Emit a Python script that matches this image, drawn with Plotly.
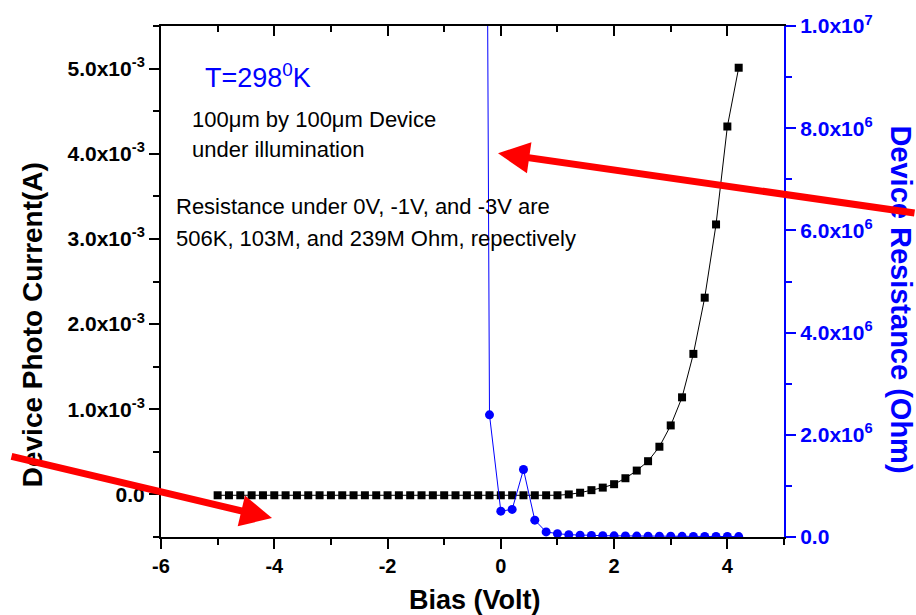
import plotly.graph_objects as go

# ---------------- data ----------------
bias_I = [-5.0, -4.8, -4.6, -4.4, -4.2, -4.0, -3.8, -3.6, -3.4, -3.2,
          -3.0, -2.8, -2.6, -2.4, -2.2, -2.0, -1.8, -1.6, -1.4, -1.2,
          -1.0, -0.8, -0.6, -0.4, -0.2, 0.0, 0.2, 0.4, 0.6, 0.8,
          1.0, 1.2, 1.4, 1.6, 1.8, 2.0, 2.2, 2.4, 2.6, 2.8,
          3.0, 3.2, 3.4, 3.6, 3.8, 4.0, 4.2]
current_A = [-1e-5] * 31 + [0.0, 2e-5, 5e-5, 8e-5, 1.2e-4, 1.9e-4, 2.8e-4, 3.9e-4, 5.6e-4,
                            8.1e-4, 1.14e-3, 1.65e-3, 2.31e-3, 3.17e-3, 4.32e-3, 5.01e-3]

bias_R = [-0.4, -0.2, 0.0, 0.2, 0.4, 0.6, 0.8, 1.0, 1.2, 1.4,
          1.6, 1.8, 2.0, 2.2, 2.4, 2.6, 2.8, 3.0, 3.2, 3.4,
          3.6, 3.8, 4.0, 4.2]
resistance_ohm = [5.0e7, 2.39e6, 5.06e5, 5.4e5, 1.32e6, 3.3e5, 1.0e5, 6.5e4, 4.5e4, 3.5e4,
                  3.0e4, 2.6e4, 2.3e4, 2.0e4, 1.8e4, 1.6e4, 1.5e4, 1.4e4, 1.3e4, 1.2e4,
                  1.1e4, 1.0e4, 9.0e3, 8.0e3]

x_tickvals = [-6, -4, -2, 0, 2, 4]
x_ticktext = ["-6", "-4", "-2", "0", "2", "4"]
yl_tickvals = [0, 1e-3, 2e-3, 3e-3, 4e-3, 5e-3]
yl_ticktext = ["0.0", "1.0x10<sup>-3</sup>", "2.0x10<sup>-3</sup>", "3.0x10<sup>-3</sup>",
               "4.0x10<sup>-3</sup>", "5.0x10<sup>-3</sup>"]
yr_tickvals = [0, 2e6, 4e6, 6e6, 8e6, 1e7]
yr_ticktext = ["0.0", "2.0x10<sup>6</sup>", "4.0x10<sup>6</sup>", "6.0x10<sup>6</sup>",
               "8.0x10<sup>6</sup>", "1.0x10<sup>7</sup>"]

FONT = "Liberation Sans, Arial, sans-serif"
BLUE = "#0000ff"

fig = go.Figure()
fig.add_trace(go.Scatter(
    x=bias_I, y=current_A, mode="lines+markers",
    line=dict(color="black", width=1),
    marker=dict(symbol="square", size=8, color="black"),
    showlegend=False, hoverinfo="skip"))
fig.add_trace(go.Scatter(
    x=bias_R, y=resistance_ohm, mode="lines+markers", yaxis="y2",
    line=dict(color=BLUE, width=1),
    marker=dict(symbol="circle", size=9, color=BLUE),
    showlegend=False, hoverinfo="skip"))
# dummy trace so the top mirror axis is drawn
fig.add_trace(go.Scatter(x=[None], y=[None], xaxis="x2", showlegend=False, hoverinfo="skip"))

ml, mr, mt, mb = 161, 132, 23, 78
W, H = 916, 615
pw, ph = W - ml - mr, H - mt - mb

def px(xp):
    return (xp - ml) / pw

def py(yp):
    return 1 - (yp - mt) / ph

fig.update_layout(
    width=W, height=H,
    margin=dict(l=ml, r=mr, t=mt, b=mb, pad=0),
    paper_bgcolor="white", plot_bgcolor="white",
    font=dict(family=FONT, color="black"),
    xaxis=dict(range=[-6, 5], showgrid=False, zeroline=False,
               showline=True, linecolor="black", linewidth=2,
               ticks="outside", ticklen=10, tickwidth=2, tickcolor="black",
               tickvals=x_tickvals, ticktext=x_ticktext,
               tickfont=dict(size=20, family=FONT, weight="bold", color="black"),
               minor=dict(ticks="outside", ticklen=6, tickwidth=2, tickcolor="black", dtick=1, tick0=-6)),
    xaxis2=dict(range=[-6, 5], overlaying="x", side="top", anchor="y",
                showgrid=False, zeroline=False, showline=True, linecolor="black", linewidth=2,
                ticks="inside", ticklen=10, tickwidth=2, tickcolor="black",
                tickvals=x_tickvals, showticklabels=False,
                minor=dict(ticks="inside", ticklen=6, tickwidth=2, tickcolor="black", dtick=1, tick0=-6)),
    yaxis=dict(range=[-0.5e-3, 5.5e-3], showgrid=False, zeroline=False,
               showline=True, linecolor="black", linewidth=2,
               ticks="outside", ticklen=10, tickwidth=2, tickcolor="black",
               tickvals=yl_tickvals, ticktext=yl_ticktext,
               tickfont=dict(size=21, family=FONT, weight="bold", color="black"),
               minor=dict(ticks="outside", ticklen=6, tickwidth=2, tickcolor="black", dtick=0.5e-3, tick0=0)),
    yaxis2=dict(range=[0, 1e7], overlaying="y", side="right", anchor="x",
                showgrid=False, zeroline=False,
                showline=True, linecolor=BLUE, linewidth=2,
                ticks="outside", ticklen=10, tickwidth=2, tickcolor=BLUE,
                tickvals=yr_tickvals, ticktext=yr_ticktext,
                tickfont=dict(size=21, family=FONT, weight="bold", color=BLUE),
                minor=dict(ticks="outside", ticklen=6, tickwidth=2, tickcolor=BLUE, dtick=1e6, tick0=0)),
)

ann = []
# axis titles
ann.append(dict(text="<b>Device Photo Current(A)</b>", xref="paper", yref="paper",
                x=px(32), y=py(324), textangle=-90, showarrow=False,
                font=dict(size=28, family=FONT, color="black"), xanchor="center", yanchor="middle"))
ann.append(dict(text="<b>Device Resistance (Ohm)</b>", xref="paper", yref="paper",
                x=px(901), y=py(298), textangle=90, showarrow=False,
                font=dict(size=29, family=FONT, color=BLUE), xanchor="center", yanchor="middle"))
ann.append(dict(text="<b>Bias (Volt)</b>", xref="paper", yref="paper",
                x=px(475), y=py(600), showarrow=False,
                font=dict(size=27, family=FONT, color="black"), xanchor="center", yanchor="middle"))
# in-plot texts
ann.append(dict(text="T=298<sup>0</sup>K", xref="paper", yref="paper",
                x=px(203), y=py(73), showarrow=False, xanchor="left", yanchor="middle",
                font=dict(size=27, family=FONT, color=BLUE)))
ann.append(dict(text="100μm by 100μm Device", xref="paper", yref="paper",
                x=px(190), y=py(117), showarrow=False, xanchor="left", yanchor="middle",
                font=dict(size=22, family=FONT, color="black")))
ann.append(dict(text="under illumination", xref="paper", yref="paper",
                x=px(190), y=py(147), showarrow=False, xanchor="left", yanchor="middle",
                font=dict(size=22, family=FONT, color="black")))
ann.append(dict(text="Resistance under 0V, -1V, and -3V are", xref="paper", yref="paper",
                x=px(174), y=py(205), showarrow=False, xanchor="left", yanchor="middle",
                font=dict(size=22, family=FONT, color="black")))
ann.append(dict(text="506K, 103M, and 239M Ohm, repectively", xref="paper", yref="paper",
                x=px(174), y=py(237), showarrow=False, xanchor="left", yanchor="middle",
                font=dict(size=22, family=FONT, color="black")))
# red arrows
ann.append(dict(text="", xref="paper", yref="paper", x=px(272), y=py(518),
                ax=10 - 272, ay=456 - 518, axref="pixel", ayref="pixel",
                showarrow=True, arrowhead=2, arrowsize=0.9, arrowwidth=7, arrowcolor="#ff0000"))
ann.append(dict(text="", xref="paper", yref="paper", x=px(498), y=py(151),
                ax=940 - 498, ay=211 - 151, axref="pixel", ayref="pixel",
                showarrow=True, arrowhead=2, arrowsize=0.9, arrowwidth=7, arrowcolor="#ff0000"))
fig.update_layout(annotations=ann)

fig.write_html("out.html")
